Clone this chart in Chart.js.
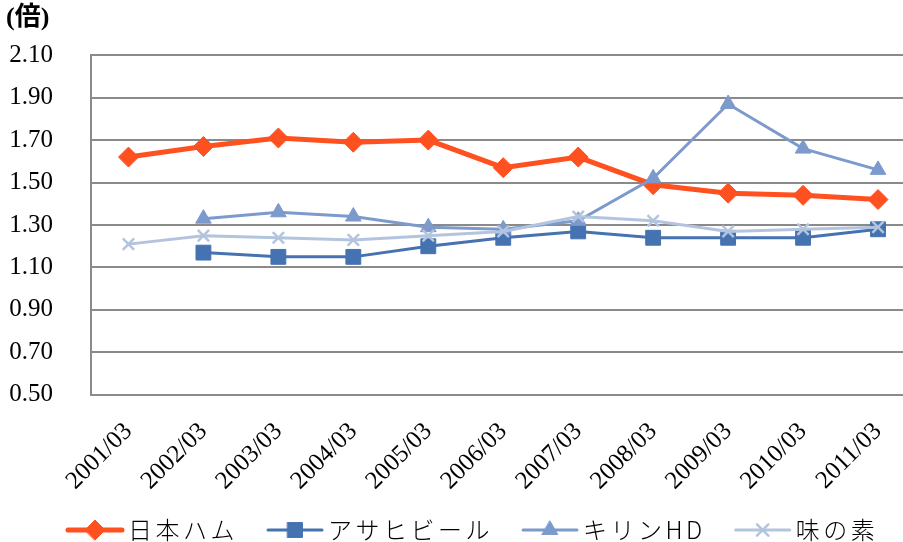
<!DOCTYPE html>
<html lang="ja">
<head>
<meta charset="utf-8">
<title>倍率推移</title>
<script src="https://cdn.jsdelivr.net/npm/chart.js@4/dist/chart.umd.min.js"></script>
<style>
  html, body { margin: 0; padding: 0; background: #fff; overflow: hidden; }
  #wrap { width: 927px; height: 542px; }
</style>
</head>
<body>
<div id="wrap"><canvas id="ratioChart"></canvas></div>
<script>
// 決算期と各社の倍率
const periods = ['2001/03', '2002/03', '2003/03', '2004/03', '2005/03', '2006/03',
                 '2007/03', '2008/03', '2009/03', '2010/03', '2011/03'];
const nipponham = [1.62, 1.67, 1.71, 1.69, 1.70, 1.57, 1.62, 1.49, 1.45, 1.44, 1.42];
const asahi     = [null, 1.17, 1.15, 1.15, 1.20, 1.24, 1.27, 1.24, 1.24, 1.24, 1.28];
const kirin     = [null, 1.33, 1.36, 1.34, 1.29, 1.28, 1.32, 1.52, 1.87, 1.66, 1.56];
const ajinomoto = [1.21, 1.25, 1.24, 1.23, 1.25, 1.27, 1.34, 1.32, 1.27, 1.28, 1.29];
const yTicks    = [0.50, 0.70, 0.90, 1.10, 1.30, 1.50, 1.70, 1.90, 2.10];

const serif = '"Liberation Serif", "DejaVu Serif", serif';
const jpFont = '"Noto Sans CJK JP", sans-serif';
const gridGray = '#8a8a8a';

function series(label, data, color, width, style, radius, order) {
    return {
        label: label,
        data: data,
        borderColor: color,
        backgroundColor: color,
        borderWidth: width,
        pointStyle: style,
        pointRadius: radius,
        pointHoverRadius: radius,
        pointBackgroundColor: color,
        pointBorderColor: color,
        pointBorderWidth: style === 'crossRot' ? 2.5 : 1,
        tension: 0,
        order: order
    };
}

// Excel風の凡例（線＋マーカー）を下部に描く
const lineLegend = {
    id: 'lineLegend',
    afterDraw(chart) {
        const ctx = chart.ctx;
        const y = 530;
        let x = chart.chartArea.left - 23;
        ctx.save();
        ctx.font = '300 24px ' + jpFont;
        ctx.letterSpacing = '3.5px';
        ctx.textBaseline = 'middle';
        chart.data.datasets.forEach(ds => {
            ctx.strokeStyle = ds.borderColor;
            ctx.fillStyle = ds.borderColor;
            ctx.lineWidth = ds.borderWidth;
            ctx.lineCap = 'round';
            ctx.beginPath();
            ctx.moveTo(x, y);
            ctx.lineTo(x + 54, y);
            ctx.stroke();
            ctx.lineWidth = ds.pointBorderWidth;
            Chart.helpers.drawPoint(ctx, {
                pointStyle: ds.pointStyle,
                radius: ds.pointRadius,
                borderWidth: ds.pointBorderWidth,
                rotation: 0
            }, x + 27, y);
            ctx.fillStyle = '#000';
            ctx.fillText(ds.label, x + 60, y);
            x += 60 + ctx.measureText(ds.label).width + 30;
        });
        ctx.restore();
    }
};

function draw() {
    new Chart(document.getElementById('ratioChart'), {
        type: 'line',
        data: {
            labels: periods,
            datasets: [
                series('日本ハム', nipponham, '#FF5020', 5, 'rectRot', 10, 4),
                series('アサヒビール', asahi, '#4572B0', 3, 'rect', 10.5, 3),
                series('キリンHD', kirin, '#7C9ACB', 3, 'triangle', 9, 2),
                series('味の素', ajinomoto, '#B3C4DF', 3, 'crossRot', 8, 1)
            ]
        },
        options: {
            responsive: true,
            maintainAspectRatio: false,
            animation: false,
            layout: { padding: { left: 6, right: 1, top: 0, bottom: 24 } },
            scales: {
                x: {
                    offset: true,
                    // 斜めラベルの張り出しで左余白が増えないようにする
                    afterFit: axis => { axis.paddingLeft = 0; axis.paddingRight = 0; },
                    grid: { display: false, drawTicks: false },
                    border: { display: true, color: gridGray, width: 2 },
                    ticks: {
                        color: '#000',
                        font: { family: serif, size: 25 },
                        minRotation: 45,
                        maxRotation: 45,
                        padding: 22,
                        autoSkip: false
                    }
                },
                y: {
                    min: 0.5,
                    max: 2.1,
                    afterFit: axis => { axis.width = 85; },
                    grid: { color: gridGray, lineWidth: 2, drawTicks: false },
                    border: { display: true, color: gridGray, width: 2 },
                    afterBuildTicks: axis => { axis.ticks = yTicks.map(v => ({ value: v })); },
                    ticks: {
                        color: '#000',
                        font: { family: serif, size: 25 },
                        padding: 38,
                        callback: v => Number(v).toFixed(2)
                    }
                }
            },
            plugins: {
                legend: { display: false },
                tooltip: { enabled: false },
                title: {
                    display: true,
                    text: '(倍)',
                    align: 'start',
                    color: '#000',
                    font: { family: '"Liberation Serif", "Noto Sans CJK JP", serif', size: 26, weight: 'bold' },
                    padding: { top: 3, bottom: 21 }
                }
            }
        },
        plugins: [lineLegend]
    });
}

Promise.all([
    document.fonts.load('25px "Liberation Serif"'),
    document.fonts.load('bold 26px "Liberation Serif"'),
    document.fonts.load('300 24px "Noto Sans CJK JP"')
]).then(draw, draw);
</script>
</body>
</html>
